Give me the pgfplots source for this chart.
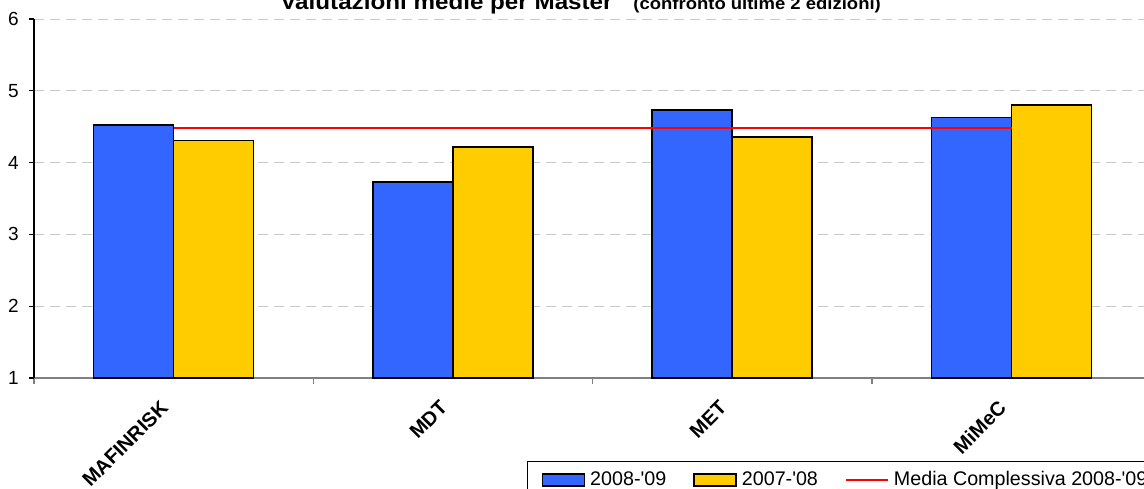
\documentclass[border=0pt]{standalone}
\usepackage{graphicx}
\usepackage{pgfplots}
\pgfplotsset{compat=1.18}
\usepackage{fontspec}
\setmainfont{Liberation Sans}
\setsansfont{Liberation Sans}
\definecolor{barblue}{RGB}{51,102,255}
\definecolor{baryellow}{RGB}{255,204,0}
\definecolor{gridgray}{RGB}{200,200,200}
\definecolor{axgray}{RGB}{128,128,128}
\begin{document}
\begin{tikzpicture}
\useasboundingbox (0,0) rectangle (572pt,244pt);
\clip (0,0) rectangle (572pt,244pt);
\begin{axis}[
  at={(17pt,55pt)}, anchor=south west,
  x=139.65pt, y=35.9pt,
  xmin=-0.5, xmax=3.5, ymin=1, ymax=6,
  axis x line*=bottom, axis y line*=left,
  every outer x axis line/.append style={-, draw=axgray, line width=0.6pt},
  every outer y axis line/.append style={-, draw=black, line width=0.6pt},
  /pgf/number format/assume math mode=true,
  tick label style={font=\fontsize{9.5}{11}\selectfont},
  ytick={1,2,3,4,5,6},
  yticklabel style={anchor=east, inner sep=0pt, xshift=-5pt},
  tick align=outside,
  major tick length=2.5pt,
  minor tick length=3pt,
  y tick style={black, line width=0.6pt},
  xtick={0,1,2,3},
  xticklabels={MAFINRISK, MDT, MET, MiMeC},
  major x tick style={draw=none},
  minor xtick={-0.5,0.5,1.5,2.5,3.5},
  minor x tick style={axgray, line width=0.6pt},
  xticklabel style={font=\bfseries\fontsize{10}{12}\selectfont, xshift=-4.5pt, yshift=-10.6pt, rotate=45, anchor=east, inner sep=0pt},
  ymajorgrids=true,
  grid style={gridgray, dash pattern=on 5pt off 3pt, line width=0.5pt},
  clip=true,
  legend columns=3,
  legend style={at={(0.4414,-0.2312)}, anchor=north west, draw=black, line width=0.5pt,
    font=\fontsize{9.85}{11}\selectfont, inner xsep=7pt, inner ysep=3pt,
    /tikz/every odd column/.append style={column sep=0.5pt},
    /tikz/every even column/.append style={column sep=11.5pt}},
]
\addplot[ybar, bar width=40pt, bar shift=-20pt, fill=barblue, draw=black, line width=0.8pt,
  legend image code/.code={\draw[fill=barblue, draw=black, line width=0.8pt] (0pt,-3pt) rectangle (21pt,3pt);}]
  coordinates {(0,4.52) (1,3.73) (2,4.73) (3,4.63)};
\addlegendentry{2008-\textquotesingle 09}
\addplot[ybar, bar width=40pt, bar shift=20pt, fill=baryellow, draw=black, line width=0.8pt,
  legend image code/.code={\draw[fill=baryellow, draw=black, line width=0.8pt] (0pt,-3pt) rectangle (21pt,3pt);}]
  coordinates {(0,4.31) (1,4.22) (2,4.36) (3,4.80)};
\addlegendentry{2007-\textquotesingle 08}
\addplot[red, line width=1pt, sharp plot, mark=none,
  legend image code/.code={\draw[red, line width=1pt] (0pt,0pt) -- (21pt,0pt);}]
  coordinates {(0,4.485) (3,4.485)};
\addlegendentry{Media Complessiva 2008-\textquotesingle 09}
\end{axis}
\node[anchor=base east, inner sep=0pt] at (306.5pt,239.3pt) {\scalebox{1.1}[1]{\bfseries\fontsize{11}{13}\selectfont Valutazioni medie per Master}};
\node[anchor=base west, inner sep=0pt] at (316.5pt,239.3pt) {\scalebox{1.1}[1]{\bfseries\fontsize{8.4}{10}\selectfont (confronto ultime 2 edizioni)}};
\end{tikzpicture}
\end{document}
